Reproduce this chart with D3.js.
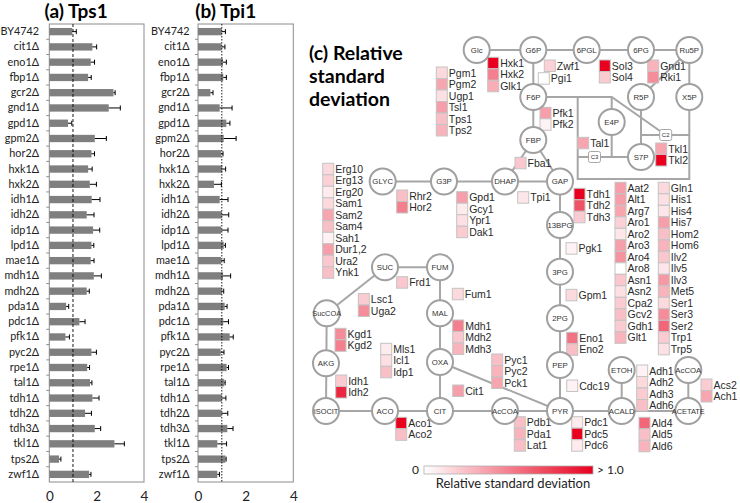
<!DOCTYPE html>
<html><head><meta charset="utf-8">
<script src="https://cdn.jsdelivr.net/npm/d3@7"></script>
<style>body{margin:0;background:#fff} svg{display:block}</style>
</head><body>
<svg id="c" width="740" height="503"></svg>
<script>
// ---------------- DATA ----------------
const strains = ["BY4742","cit1Δ","eno1Δ","fbp1Δ","gcr2Δ","gnd1Δ","gpd1Δ","gpm2Δ","hor2Δ","hxk1Δ","hxk2Δ","idh1Δ","idh2Δ","idp1Δ","lpd1Δ","mae1Δ","mdh1Δ","mdh2Δ","pda1Δ","pdc1Δ","pfk1Δ","pyc2Δ","rpe1Δ","tal1Δ","tdh1Δ","tdh2Δ","tdh3Δ","tkl1Δ","tps2Δ","zwf1Δ"];
const tps1Mean = [0.97,1.82,1.75,1.64,2.71,2.51,0.79,1.92,1.78,1.64,1.71,1.79,1.58,1.85,1.78,1.75,1.88,1.58,0.71,1.27,0.68,1.78,1.60,1.72,1.82,1.51,1.92,2.75,0.41,1.68];
const tps1Err  = [0.17,0.18,0.16,0.13,0.07,0.49,0.16,0.49,0.13,0.17,0.28,0.35,0.31,0.28,0.10,0.14,0.32,0.11,0.11,0.24,0.17,0.21,0.10,0.08,0.28,0.27,0.25,0.42,0.08,0.08];
const tpi1Mean = [1.00,0.99,1.05,1.06,0.52,0.91,1.19,1.08,0.97,1.02,0.67,0.91,1.00,0.97,1.08,0.97,1.05,1.00,1.12,1.06,1.33,0.95,1.20,1.10,1.00,0.98,1.23,0.81,1.15,0.81];
const tpi1Err  = [0.15,0.14,0.14,0.13,0.11,0.52,0.15,0.52,0.08,0.14,0.31,0.35,0.29,0.29,0.07,0.13,0.32,0.08,0.10,0.22,0.15,0.14,0.08,0.04,0.17,0.27,0.24,0.39,0.03,0.09];
const xTicks = [0,2,4];
const refLine = 1;

const metabolites = ["Glc","G6P","6PGL","6PG","Ru5P","F6P","R5P","X5P","E4P","FBP","S7P","GLYC","G3P","DHAP","GAP","13BPG","3PG","2PG","PEP","PYR","ETOH","AcCOA","ACALD","ACETATE","SUC","FUM","SucCOA","MAL","AKG","OXA","ISOCIT","ACO","CIT","AcCOA"];

const enzymeNames = [
 ["Pgm1","Pgm2","Ugp1","Tsl1","Tps1","Tps2"],
 ["Hxk1","Hxk2","Glk1"],
 ["Zwf1"],["Pgi1"],
 ["Sol3","Sol4"],["Gnd1","Rki1"],
 ["Pfk1","Pfk2"],["Tal1"],["Tkl1","Tkl2"],["Fba1"],["Tpi1"],
 ["Tdh1","Tdh2","Tdh3"],["Rhr2","Hor2"],["Gpd1","Gcy1","Ypr1","Dak1"],
 ["Erg10","Erg13","Erg20","Sam1","Sam2","Sam4","Sah1","Dur1,2","Ura2","Ynk1"],
 ["Frd1"],["Fum1"],["Lsc1","Uga2"],["Kgd1","Kgd2"],["Mls1","Icl1","Idp1"],["Idh1","Idh2"],
 ["Mdh1","Mdh2","Mdh3"],["Pyc1","Pyc2","Pck1"],["Cit1"],["Aco1","Aco2"],
 ["Pdb1","Pda1","Lat1"],["Pdc1","Pdc5","Pdc6"],["Ald4","Ald5","Ald6"],["Adh1","Adh2","Adh3","Adh6"],
 ["Acs2","Ach1"],["Cdc19"],["Eno1","Eno2"],["Gpm1"],["Pgk1"],
 ["Aat2","Alt1","Arg7","Aro1","Aro2","Aro3","Aro4","Aro8","Asn1","Asn2","Cpa2","Gcv2","Gdh1","Glt1"],
 ["Gln1","His1","His4","His7","Hom2","Hom6","Ilv2","Ilv5","Ilv3","Met5","Ser1","Ser3","Ser2","Trp1","Trp5"]
];
const enzymeRSD = [
 [0.15,0.35,0.12,0.38,0.25,0.30],
 [1.0,0.5,0.32],
 [0.18],[0.0],
 [1.0,0.2],[0.3,0.45],
 [0.38,0.05],[0.35],[0.35,1.0],[0.22],[0.1],
 [1.0,0.68,0.2],[0.25,0.5],[0.38,0.08,0.12,0.2],
 [0.15,0.18,0.08,0.15,0.35,0.25,0.05,0.38,0.22,0.25],
 [0.22],[0.15],[0.2,0.45],[0.45,0.5],[0.08,0.12,0.25],[0.2,0.85],
 [0.5,0.22,0.3],[0.25,0.3,0.35],[0.38],[1.0,0.25],
 [0.25,0.3,0.25],[0.08,1.0,0.08],[0.6,0.25,0.3],[0.05,0.15,0.2,0.25],
 [0.2,0.35],[0.05],[0.55,0.25],[0.15],[0.05],
 [0.38,0.38,0.35,0.18,0.1,0.38,0.42,0.0,0.22,0.12,0.2,0.25,0.2,0.3],
 [0.15,0.12,0.1,0.38,0.25,0.3,0.22,0.1,0.4,0.3,0.15,0.45,0.6,0.2,0.12]
];
const colorDomain = [0, 1];

// ---------------- LAYOUT (positions only) ----------------
const nodeXY = [[476.7,50],[533.3,50],[586.7,50],[641,50],[689.3,50],
 [533.3,97],[641,97],[689.3,97],[611.7,122],[533.3,140],[641,157],
 [382.7,181.5],[444,181.5],[505,181.5],[560,181.5],
 [560,225],[560,271.7],[560,318.3],[560,365],[560,411],
 [621.7,370],[688.3,370],[621.7,411],[688.3,411],
 [385,267.3],[440,267.3],[326.7,313.3],[440,313.3],
 [326,363.3],[440,362],[326,411],[385,411],[440,411],[505,411]];
const groupXY = [[436.3,67],[487.7,57.3],[544.3,60],[538.3,72.7],[599.3,60],[647.7,60],
 [540,107.3],[577.7,137.3],[655.7,143],[515,157.3],[517.7,191.7],
 [574,188.3],[396.7,190],[456.7,191.7],
 [322.7,163.3],
 [396.7,276.7],[452.3,288.3],[358.3,293.5],[335,328.3],[380.7,343.3],[335.7,375],
 [452.7,320],[491.7,354],[452.7,385],[395.7,417.3],
 [514.3,416.7],[571.7,416.7],[639,417.3],[636.7,365],
 [701,379],[566.7,380],[566.7,332.3],[566,289.3],[566,242.7],
 [615,182.3],[658.3,182.3]];

const svg = d3.select("#c");

// ---------------- BAR PANELS ----------------
function barPanel(x0, x1, labelEnd, title, means, errs, dash) {
  const x = d3.scaleLinear().domain([0,4]).range([x0, x1]);
  const y = d3.scaleBand().domain(strains).range([24, 482]).paddingInner(0.52).paddingOuter(0.26);
  const g = svg.append("g");
  g.append("rect").attr("x", x0).attr("y", 24).attr("width", x1 - x0).attr("height", 458)
    .attr("fill", "none").attr("stroke", "#8c8c8c").attr("stroke-width", 1);
  d3.range(1, strains.length).forEach(i => {
    const yy = 24 + i * (458 / strains.length);
    g.append("line").attr("x1", x0 - 3).attr("x2", x0).attr("y1", yy).attr("y2", yy)
      .attr("stroke", "#8c8c8c");
  });
  g.selectAll("rect.bar").data(strains).join("rect").attr("class","bar")
    .attr("x", x(0)).attr("y", d => y(d))
    .attr("width", (d,i) => x(means[i]) - x(0)).attr("height", y.bandwidth())
    .attr("fill", "#7f7f7f");
  const eb = g.selectAll("g.eb").data(strains).join("g").attr("class","eb");
  eb.append("line").attr("x1",(d,i)=>x(means[i])).attr("x2",(d,i)=>x(means[i]+errs[i]))
    .attr("y1", d => y(d)+y.bandwidth()/2).attr("y2", d => y(d)+y.bandwidth()/2)
    .attr("stroke","#000").attr("stroke-width",1);
  eb.append("line").attr("x1",(d,i)=>x(means[i]+errs[i])).attr("x2",(d,i)=>x(means[i]+errs[i]))
    .attr("y1", d => y(d)+y.bandwidth()/2-2.5).attr("y2", d => y(d)+y.bandwidth()/2+2.5)
    .attr("stroke","#000").attr("stroke-width",1);
  g.append("line").attr("x1", x(refLine)).attr("x2", x(refLine)).attr("y1", 24).attr("y2", 482)
    .attr("stroke","#000").attr("stroke-width",0.9).attr("stroke-dasharray", dash);
  const ya = d3.axisLeft(y).tickSize(0).tickPadding(x0 - labelEnd);
  const gy = g.append("g").attr("transform", `translate(${x0},0)`).call(ya);
  gy.select(".domain").remove();
  gy.selectAll("text").attr("font-family","Lato, 'Open Sans', sans-serif").attr("font-size", 10.8).attr("fill","#222");
  const xa = d3.axisBottom(x).tickValues(xTicks).tickSize(0).tickPadding(9).tickFormat(d3.format("d"));
  const gx = g.append("g").attr("transform", "translate(0,482)").call(xa);
  gx.select(".domain").remove();
  gx.selectAll("text").attr("font-family","Lato, 'Open Sans', sans-serif").attr("font-size", 13.5).attr("fill","#222");
  g.append("text").attr("x", (x0 + labelEnd) / 2 + 32).attr("y", 18).attr("text-anchor","middle")
    .attr("font-family","Lato, 'Open Sans', sans-serif").attr("font-weight","bold").attr("font-size",19)
    .attr("fill","#000").text(title);
}
barPanel(49.3, 144, 39, "(a) Tps1", tps1Mean, tps1Err, "3,2");
barPanel(198, 293.3, 189.5, "(b) Tpi1", tpi1Mean, tpi1Err, "1.5,1.5");

// ---------------- NETWORK ----------------
const color = d3.scaleLinear().domain(colorDomain).range(["#ffffff","#e8001e"]).clamp(true);
const idx = n => metabolites.indexOf(n);
const net = svg.append("g");
const lineGen = d3.line();
const J = {
  e4pTop:[611.7,97], c2:[665.7,135], c2L:[641,135], c2R:[689.3,135],
  vTop:[577.7,97], vBot:[577.7,179], hBotR:[689.3,179],
  c3:[594.5,157], c3L:[577.7,157], e4pBot:[611.7,157]
};
const N = n => nodeXY[idx(n)];
const paths = [
  [N("Glc"), N("Ru5P")],
  [N("G6P"), N("FBP")],
  [N("Ru5P"), N("X5P")],
  [N("R5P"), N("Ru5P")],
  [N("F6P"), J.e4pTop, J.c2],
  [J.vTop, J.vBot, J.hBotR, N("X5P")],
  [J.e4pTop, J.e4pBot],
  [J.c3L, N("S7P")],
  [N("R5P"), N("S7P")],
  [J.c2L, J.c2R],
  [N("FBP"), N("GAP")],
  [N("FBP"), N("DHAP")],
  [N("GLYC"), N("GAP")],
  [N("GAP"), N("PYR")],
  [nodeXY[30], N("ACETATE")],
  [N("ETOH"), N("ACALD")],
  [nodeXY[21], N("ACETATE")],
  [N("OXA"), N("PYR")],
  [N("CIT"), N("FUM")],
  [N("SUC"), N("FUM")],
  [N("SUC"), N("SucCOA")],
  [N("SucCOA"), nodeXY[30]]
];
net.selectAll("path.edge").data(paths).join("path").attr("class","edge")
  .attr("d", d => lineGen(d)).attr("fill","none").attr("stroke","#a6a6a6").attr("stroke-width",2);

[["C2", J.c2], ["C3", J.c3]].forEach(([t, p]) => {
  net.append("rect").attr("x", p[0]-6).attr("y", p[1]-5.5).attr("width", 12).attr("height", 11).attr("rx", 2)
    .attr("fill","#fff").attr("stroke","#a6a6a6").attr("stroke-width",1);
  net.append("text").attr("x", p[0]).attr("y", p[1]+2.2).attr("text-anchor","middle")
    .attr("font-family","'Liberation Sans', Arial, sans-serif").attr("font-size",6).attr("fill","#333").text(t);
});

const rowStep = 11.5;
enzymeNames.forEach((names, gi) => {
  const [gx, gy] = groupXY[gi];
  names.forEach((n, k) => {
    const v = enzymeRSD[gi][k];
    net.append("rect").attr("x", gx).attr("y", gy + k*rowStep).attr("width", 11).attr("height", rowStep)
      .attr("fill", color(v)).attr("stroke", "#c4c4c4").attr("stroke-width", 1);
    net.append("text").attr("x", gx + 12.5).attr("y", gy + k*rowStep + rowStep/2 + 3.8)
      .attr("font-family","'Liberation Sans', Arial, sans-serif").attr("font-size",10.5)
      .attr("fill","#2a2a2a").text(n);
  });
});

const ng = net.selectAll("g.node").data(metabolites).join("g").attr("class","node")
  .attr("transform", (d,i) => `translate(${nodeXY[i][0]},${nodeXY[i][1]})`);
ng.append("circle").attr("r", 13).attr("fill","#fff").attr("stroke","#a0a0a0").attr("stroke-width",2);
ng.append("text").attr("text-anchor","middle").attr("y", 2.8)
  .attr("font-family","'Liberation Sans', Arial, sans-serif").attr("font-size", d => d.length > 5 ? 7.4 : 7.8)
  .attr("fill","#333").text(d => d);

const tt = svg.append("text").attr("font-family","Lato, 'Open Sans', sans-serif").attr("font-weight","bold")
  .attr("font-size",19.5).attr("fill","#000");
["(c) Relative","standard","deviation"].forEach((s,i) => tt.append("tspan").attr("x",309).attr("y",60 + i*23).text(s));

const defs = svg.append("defs");
const grad = defs.append("linearGradient").attr("id","rsdgrad");
grad.selectAll("stop").data(d3.range(0,1.01,0.1)).join("stop")
  .attr("offset", d => d).attr("stop-color", d => color(d));
const cbx = d3.scaleLinear().domain(colorDomain).range([424, 593]);
svg.append("rect").attr("x", cbx(0)).attr("y", 466).attr("width", cbx(1)-cbx(0)).attr("height", 8)
  .attr("fill","url(#rsdgrad)").attr("stroke","#b0b0b0").attr("stroke-width",0.8);
svg.append("text").attr("x", cbx(0)-5).attr("y", 474).attr("text-anchor","end")
  .attr("font-family","Lato, 'Open Sans', sans-serif").attr("font-size",12).attr("fill","#222").text("0");
svg.append("text").attr("x", cbx(1)+4).attr("y", 474)
  .attr("font-family","Lato, 'Open Sans', sans-serif").attr("font-size",12).attr("fill","#222").text("> 1.0");
svg.append("text").attr("x", 513).attr("y", 488).attr("text-anchor","middle")
  .attr("font-family","Lato, 'Open Sans', sans-serif").attr("font-size",13).attr("fill","#222").text("Relative standard deviation");
</script>
</body></html>
